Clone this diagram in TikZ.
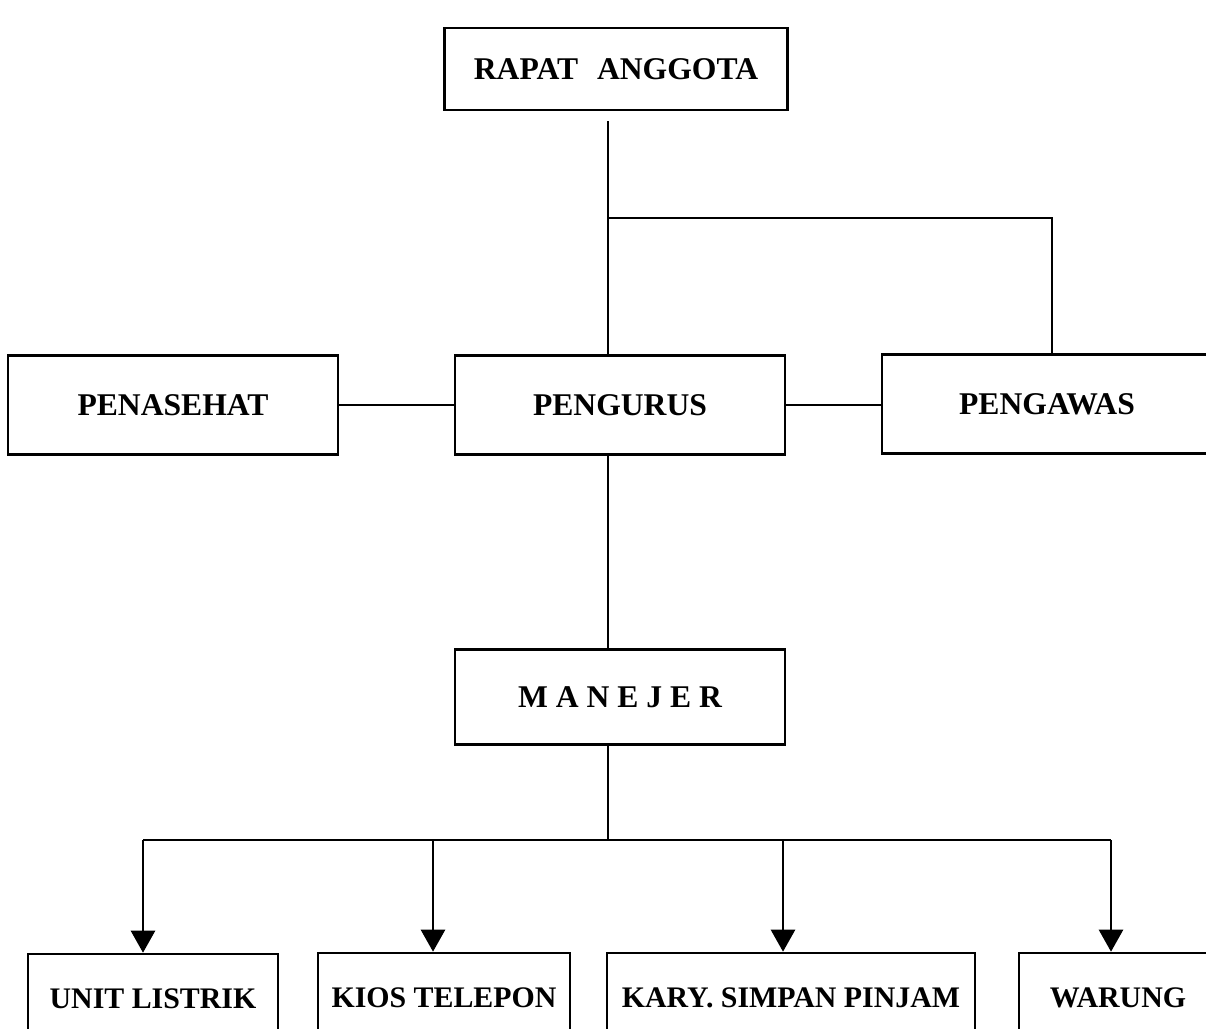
\documentclass[tikz,border=0pt]{standalone}
\usepackage{fontspec}
\setmainfont{Liberation Serif}
\usetikzlibrary{arrows.meta,positioning}
\begin{document}
\begin{tikzpicture}[x=0.02cm,y=-0.02cm,line width=1.5pt,
        kotak/.style={rectangle,draw=black,line width=1.5pt,minimum width=6.6cm,minimum height=1.98cm,
          font=\fontsize{18}{20}\selectfont\bfseries},
        unit/.style={kotak,minimum height=1.8cm,font=\fontsize{17}{19}\selectfont\bfseries},
        panah/.style={-{Triangle[length=0.44cm,width=0.48cm]}}]
      \clip (0,0) rectangle (1206,1028);
      \node [kotak,minimum width=6.86cm,minimum height=1.64cm] (rapat) at (616,69) {RAPAT\hspace{0.6em}ANGGOTA};
      \node [kotak] (penasehat) at (173,405) {PENASEHAT};
      \node [kotak] (pengurus)  at (620,405) {PENGURUS};
      \node [kotak] (pengawas)  at (1047,404) {PENGAWAS};
      \node [kotak,minimum height=1.9cm] (manejer) at (620,697) {M\ A\ N\ E\ J\ E\ R};
      \node [unit,minimum width=5cm]    (listrik) at (153,999) {UNIT LISTRIK};
      \node [unit,minimum width=5.04cm] (kios)    at (444,998) {KIOS TELEPON};
      \node [unit,minimum width=7.36cm] (kary)    at (791,998) {KARY. SIMPAN PINJAM};
      \node [unit,minimum width=3.96cm] (warung)  at (1118,998) {WARUNG};
      \coordinate (cabang) at (608,218);
      \coordinate (siku) at (1052,218);
      \coordinate (bagi) at (608,840);
      \draw [shorten <=0.2cm] (rapat.south -| cabang) -- (pengurus.north -| cabang);
      \draw (cabang) -- (siku) -- (siku |- pengawas.north);
      \draw (penasehat.east) -- (penasehat.east -| pengurus.west);
      \draw (pengurus.east) -- (pengurus.east -| pengawas.west);
      \draw (pengurus.south -| cabang) -- (manejer.north -| cabang);
      \draw (manejer.south -| cabang) -- (bagi);
      \foreach \bag/\xpos in {listrik/143,kios/433,kary/783,warung/1111}
        {\coordinate (p\bag) at (\xpos,840);
         \draw [panah] (p\bag) -- (p\bag |- \bag.north);}
      \draw (plistrik) -- (pwarung);
    \end{tikzpicture}
\end{document}
